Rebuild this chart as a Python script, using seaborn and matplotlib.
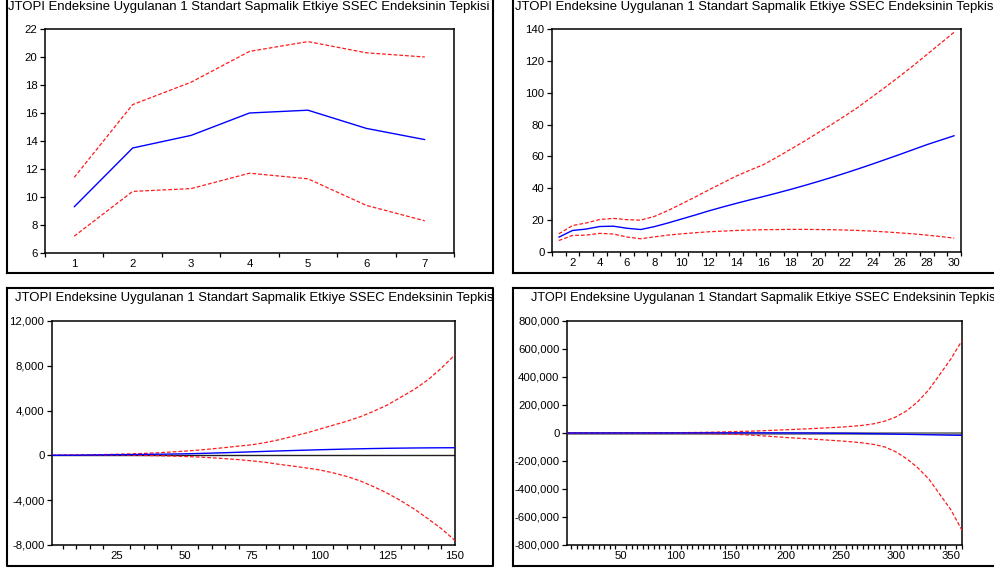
import numpy as np
import pandas as pd
import matplotlib
matplotlib.use("Agg")
import matplotlib.pyplot as plt
from matplotlib.lines import Line2D
from matplotlib.ticker import FuncFormatter, FixedLocator
from matplotlib.transforms import Bbox
import seaborn as sns

# ---------------- data ----------------
TITLE = "JTOPI Endeksine Uygulanan 1 Standart Sapmalik Etkiye SSEC Endeksinin Tepkisi"

# horizon 1..7
h7 = [1, 2, 3, 4, 5, 6, 7]
resp7 = [9.3, 13.5, 14.4, 16.0, 16.2, 14.9, 14.1]
upper7 = [11.4, 16.6, 18.2, 20.4, 21.1, 20.3, 20.0]
lower7 = [7.2, 10.4, 10.6, 11.7, 11.3, 9.4, 8.3]

# horizon 1..30
h30 = list(range(1, 31))
resp30 = [9.3, 13.5, 14.4, 16.0, 16.2, 14.9, 14.1, 15.9, 18.2, 20.7,
          23.2, 25.8, 28.2, 30.5, 32.7, 34.8, 37.0, 39.3, 41.7, 44.2,
          46.8, 49.5, 52.3, 55.2, 58.2, 61.2, 64.3, 67.4, 70.2, 73.0]
upper30 = [11.4, 16.6, 18.2, 20.4, 21.1, 20.3, 20.0, 22.3, 26.0, 30.2,
           34.5, 39.0, 43.3, 47.6, 51.3, 54.8, 59.5, 64.5, 69.5, 74.8,
           80.0, 85.5, 91.2, 97.5, 103.8, 110.3, 117.0, 124.0, 131.0, 138.0]
lower30 = [7.2, 10.4, 10.6, 11.7, 11.3, 9.4, 8.3, 9.5, 10.6, 11.4,
           12.1, 12.7, 13.1, 13.5, 13.8, 14.0, 14.1, 14.2, 14.2, 14.1,
           14.0, 13.8, 13.5, 13.1, 12.6, 12.0, 11.4, 10.6, 9.7, 8.7]

# horizon 1..150 (every 5 periods)
h150 = [1, 5, 10, 15, 20, 25, 30, 35, 40, 45, 50, 55, 60, 65, 70, 75, 80,
        85, 90, 95, 100, 105, 110, 115, 120, 125, 130, 135, 140, 145, 150]
resp150 = [9.3, 16.2, 20.7, 32.7, 44.2, 58.2, 73, 88, 104, 121, 140, 170,
           205, 240, 280, 320, 360, 400, 435, 470, 505, 535, 565, 590, 615,
           635, 650, 663, 673, 680, 685]
upper150 = [11.4, 21.1, 30.2, 51.3, 74.8, 103.8, 138, 180, 230, 300, 380,
            470, 580, 700, 830, 950, 1150, 1400, 1700, 2000, 2350, 2700,
            3050, 3450, 3950, 4500, 5200, 5900, 6750, 7800, 8990]
lower150 = [7.2, 11.3, 11.4, 13.8, 14.1, 12.6, 8.7, -5, -25, -55, -95,
            -145, -210, -290, -380, -490, -620, -800, -950, -1120, -1300,
            -1560, -1880, -2280, -2800, -3380, -4050, -4800, -5650, -6550,
            -7600]

# horizon 1..360
h360 = [1, 10, 20, 30, 50, 75, 100, 125, 150, 175, 200, 225, 250, 260,
        270, 280, 290, 300, 310, 320, 330, 340, 350, 360]
resp360 = [9.3, 20.7, 44.2, 73, 140, 320, 505, 635, 685, 600, 300, -500,
           -2000, -2800, -3800, -5000, -6500, -8000, -9500, -11000, -12500,
           -14000, -15500, -16700]
upper360 = [11.4, 30.2, 74.8, 138, 380, 950, 2350, 4500, 8990, 15000,
            23000, 32000, 42000, 48000, 55000, 66000, 85000, 115000, 160000,
            225000, 310000, 420000, 530000, 660000]
lower360 = [7.2, 11.4, 14.1, 8.7, -95, -490, -1300, -3380, -7600, -18000,
            -32000, -44000, -57000, -63000, -71000, -82000, -100000, -135000,
            -185000, -250000, -330000, -440000, -550000, -695000]

# ---------------- style ----------------
sns.set_theme(style="white")
plt.rcParams["font.family"] = ["Liberation Sans", "DejaVu Sans"]

W, H = 995, 570
fig = plt.figure(figsize=(W / 100, H / 100), dpi=100)
fig.patch.set_facecolor("white")

BLUE = "#0000ff"
RED = "#ff1a1a"
DASH = (0, (3, 1.6))
TICK_FS = 8.2


def px_rect(l, t, r, b):
    return [l / W, 1 - b / H, (r - l) / W, (b - t) / H]


def fig_line(xs, ys, lw=1.5, color="black"):
    fig.add_artist(Line2D([x / W for x in xs], [1 - y / H for y in ys],
                          lw=lw, color=color, transform=fig.transFigure,
                          solid_capstyle="projecting"))


comma = FuncFormatter(lambda v, p: f"{int(round(v)):,}")


def panel(rect, x, resp, up, lo, xlim, ylim, yticks, xlabels, xminor,
          fmt=None, zero=None):
    ax = fig.add_axes(rect)
    df = pd.DataFrame({"h": x, "resp": resp, "up": up, "lo": lo})
    if zero is not None:
        ax.axhline(0, color=zero[0], lw=zero[1], zorder=1)
    sns.lineplot(data=df, x="h", y="up", ax=ax, color=RED, lw=0.9,
                 linestyle=DASH, zorder=3)
    sns.lineplot(data=df, x="h", y="lo", ax=ax, color=RED, lw=0.9,
                 linestyle=DASH, zorder=3)
    sns.lineplot(data=df, x="h", y="resp", ax=ax, color=BLUE, lw=1.0,
                 zorder=4)
    ax.set_xlim(*xlim)
    ax.set_ylim(*ylim)
    ax.set_xlabel("")
    ax.set_ylabel("")
    ax.set_yticks(yticks)
    if fmt is not None:
        ax.yaxis.set_major_formatter(fmt)
    ax.set_xticks(xlabels)
    ax.set_xticklabels([str(v) for v in xlabels])
    ax.xaxis.set_minor_locator(FixedLocator(xminor))
    ax.tick_params(axis="x", which="major", length=0, pad=4.5,
                   labelsize=TICK_FS, colors="black")
    ax.tick_params(axis="x", which="minor", bottom=True, direction="out",
                   length=3.2, width=0.9, color="black")
    ax.tick_params(axis="y", which="major", left=True, direction="out",
                   length=3.6, width=0.9, pad=1.8, labelsize=TICK_FS,
                   colors="black")
    for s in ax.spines.values():
        s.set_color("black")
        s.set_linewidth(1.1)
    ax.grid(False)
    return ax


# top-left: 7 periods
panel(px_rect(45, 29, 454, 253), h7, resp7, upper7, lower7,
      (0.5, 7.5), (6, 22), list(range(6, 23, 2)), h7,
      [v + 0.5 for v in range(0, 8)])

# top-right: 30 periods
panel(px_rect(552, 29, 961, 252), h30, resp30, upper30, lower30,
      (0.5, 30.5), (0, 140), list(range(0, 141, 20)), list(range(2, 31, 2)),
      [v + 0.5 for v in range(0, 31)])

# bottom-left: 150 periods
panel(px_rect(52, 321, 455, 545), h150, resp150, upper150, lower150,
      (1, 150), (-8000, 12000), list(range(-8000, 12001, 4000)),
      list(range(25, 151, 25)), list(range(5, 151, 5)),
      fmt=comma, zero=("#202020", 1.0))

# bottom-right: 360 periods
panel(px_rect(567, 321, 962, 545), h360, resp360, upper360, lower360,
      (1, 360), (-800000, 800000), list(range(-800000, 800001, 200000)),
      list(range(50, 351, 50)), list(range(5, 361, 5)),
      fmt=comma, zero=("#808080", 2.0))

# panel titles, clipped to each panel frame
titles = [(8, 10, 9.45, (7, 0, 492.5, 272)),
          (515, 10, 9.45, (513, 0, 995, 272)),
          (15, 301, 9.45, (7, 288, 492.5, 566)),
          (531, 301, 9.15, (513, 288, 995, 566))]
for x0, y0, fs, (cl, ct, cr, cb) in titles:
    t = fig.text(x0 / W, 1 - y0 / H, TITLE, fontsize=fs, color="black",
                 ha="left", va="baseline")
    t.set_clip_box(Bbox.from_extents(cl, H - cb, cr, H - ct))
    t.set_clip_on(True)

# panel frames
fig_line([7, 7], [0, 272.5])
fig_line([493.5, 493.5], [0, 272.5])
fig_line([7, 493.5], [272.5, 272.5])
fig_line([513.5, 513.5], [0, 273])
fig_line([513.5, 995], [273, 273])
fig_line([7, 493.5, 493.5, 7, 7], [288, 288, 566, 566, 288])
fig_line([513.5, 513.5], [288, 566])
fig_line([513.5, 995], [288, 288])
fig_line([513.5, 995], [566, 566])

fig.savefig("out.png", dpi=100, facecolor="white")
